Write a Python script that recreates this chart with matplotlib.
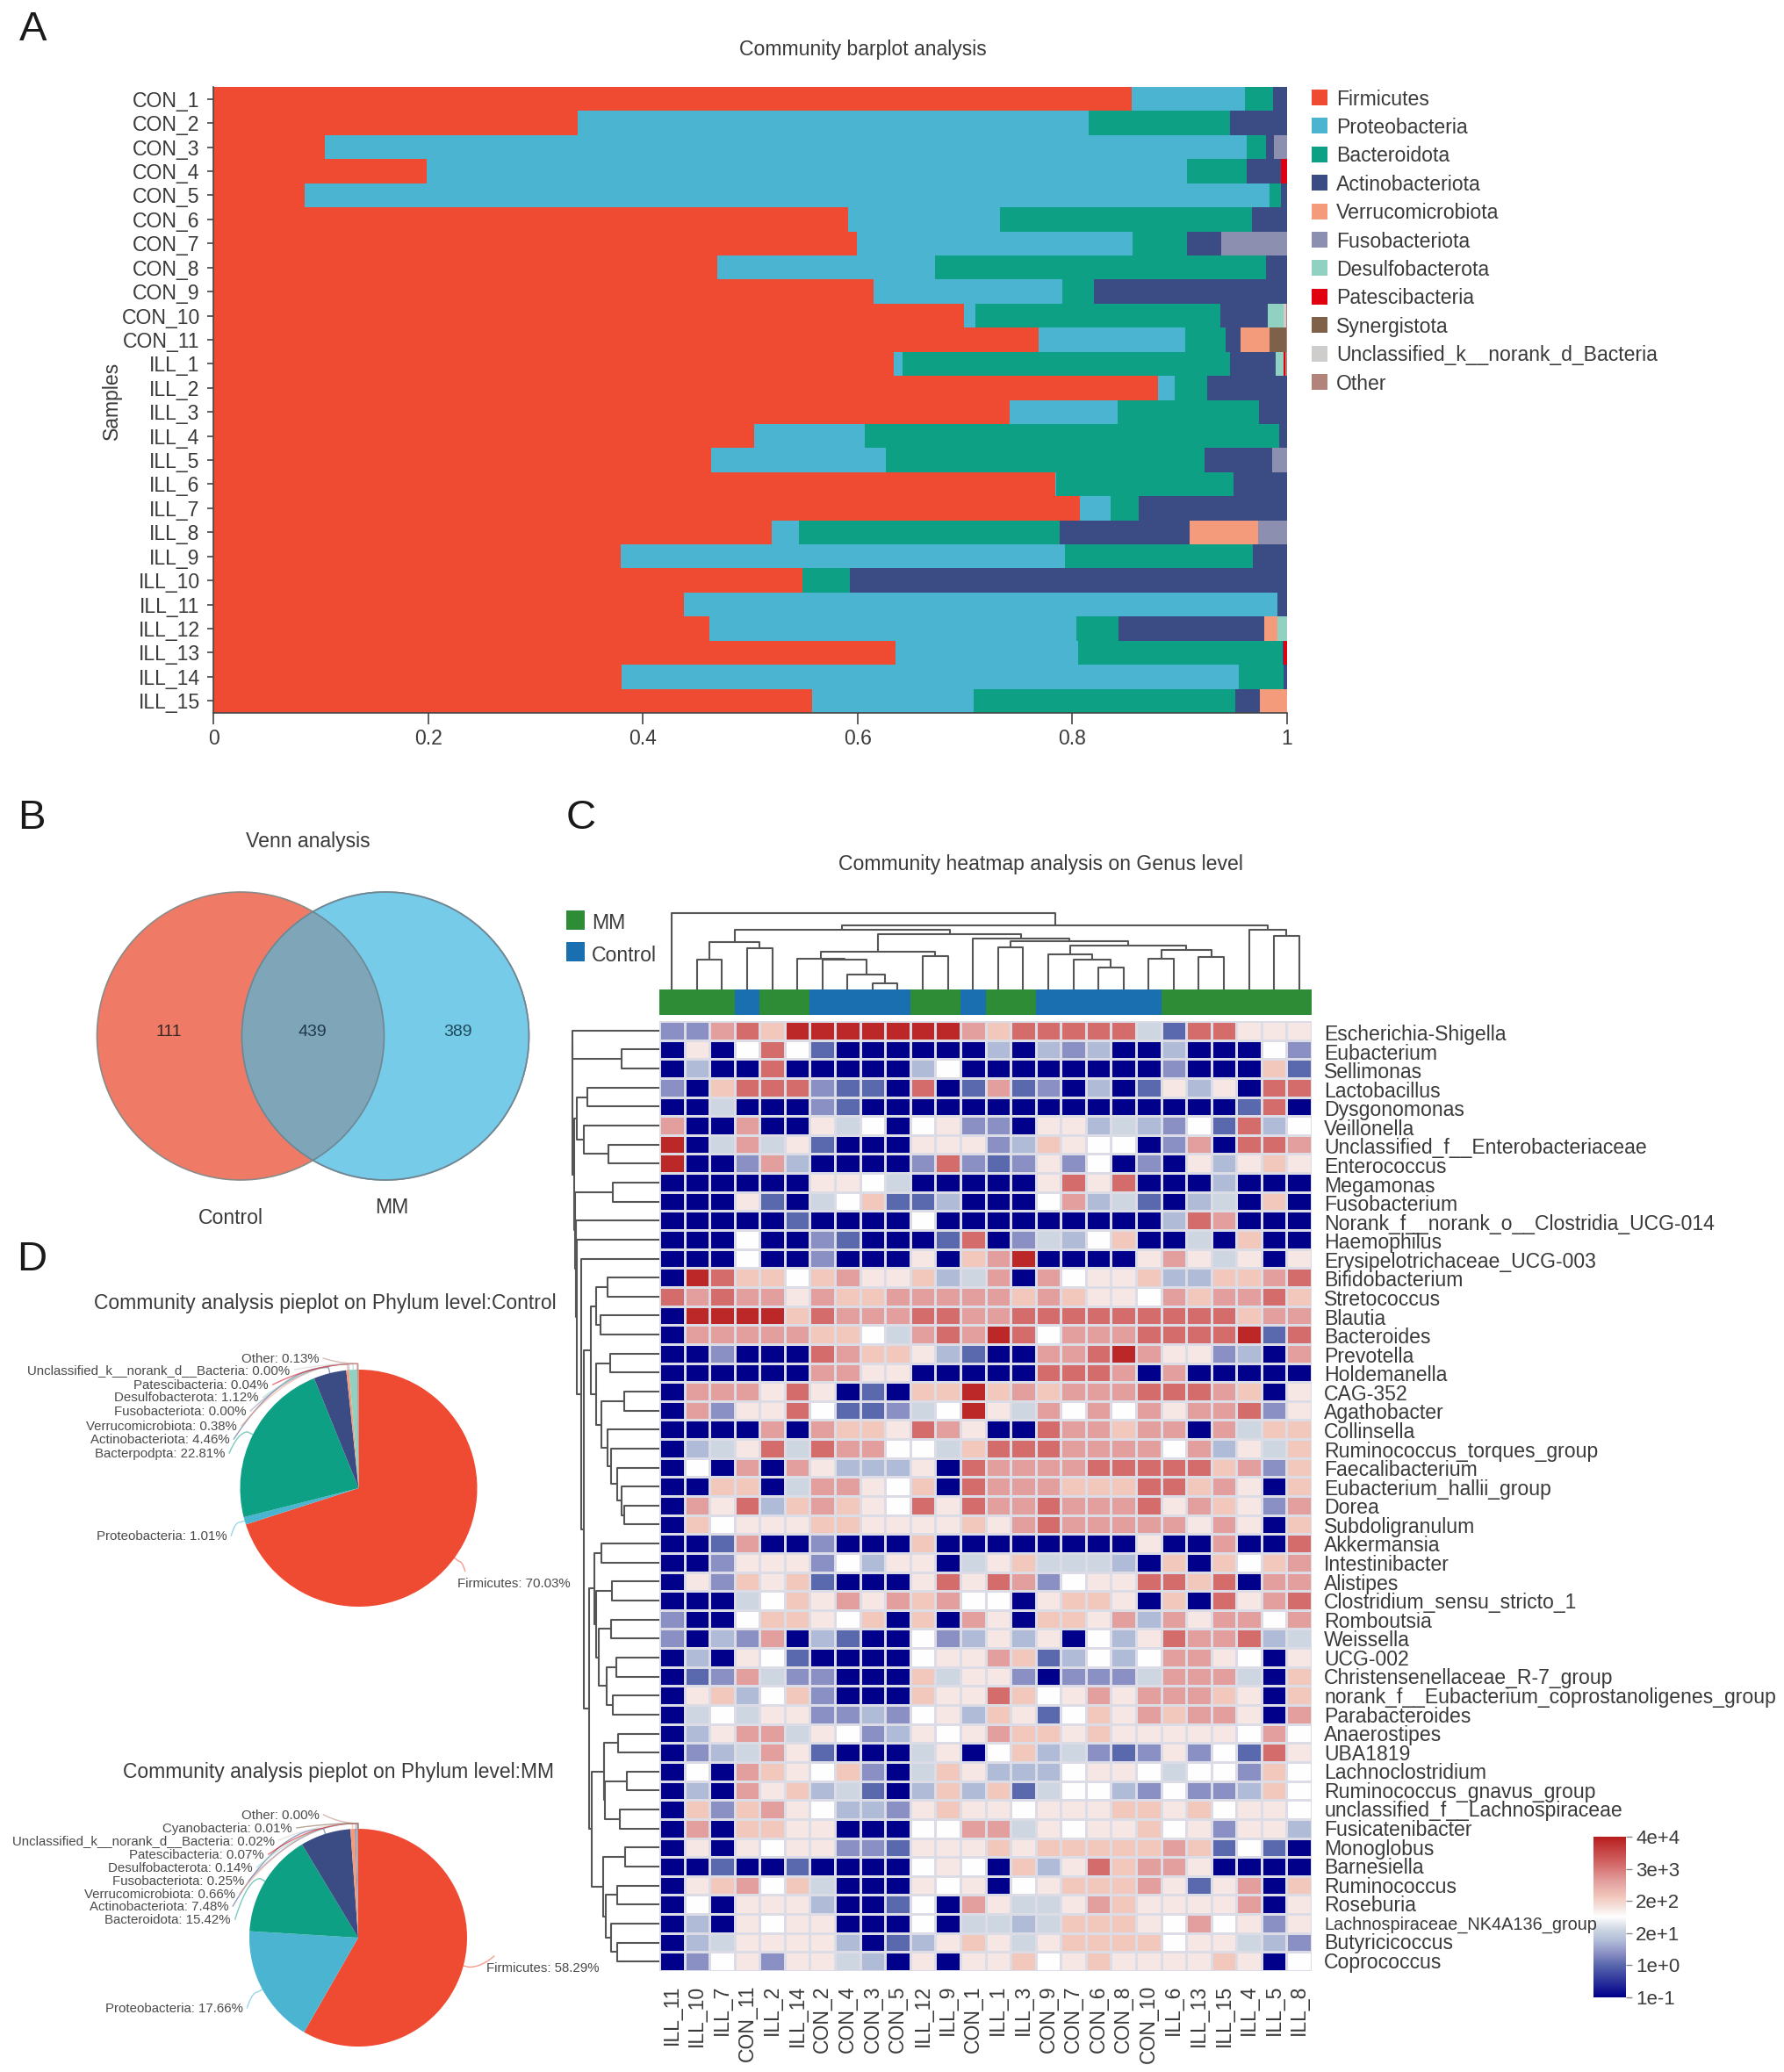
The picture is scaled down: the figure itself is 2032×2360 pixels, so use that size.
import numpy as np
import matplotlib
matplotlib.use("Agg")
import matplotlib.pyplot as plt
from matplotlib.colors import LinearSegmentedColormap, Normalize
from matplotlib.lines import Line2D
from matplotlib.patches import Rectangle, Ellipse

plt.rcParams['font.family'] = ['Liberation Sans', 'DejaVu Sans']
W, H = 2032, 2360
TC = '#3a3a3a'
FS = 16.6

# ---------- Panel A data ----------
samples = ['CON_%d' % i for i in range(1, 12)] + ['ILL_%d' % i for i in range(1, 16)]
phylum_colors = ['#ef4a32', '#4bb4d0', '#0da085', '#3b4c84', '#f39b7a', '#8d8fb0', '#91d1c2',
                 '#e0000f', '#7e6148', '#cfcccc', '#b1837a']
firmicutes = [.855, .339, .104, .199, .085, .591, .599, .469, .615, .699, .769, .634, .880, .742, .504, .464, .784, .807, .520, .379, .549, .438, .462, .635, .380, .558]
proteobacteria = [.106, .476, .858, .708, .899, .142, .257, .203, .176, .011, .136, .008, .015, .100, .103, .162, .001, .029, .025, .414, 0, .553, .342, .170, .575, .150]
bacteroidota = [.026, .132, .018, .055, .010, .234, .051, .308, .029, .228, .038, .305, .031, .132, .386, .297, .165, .026, .243, .175, .044, 0, .039, .191, .042, .244]
actinobacteriota = [.013, .053, .008, .032, .006, .033, .032, .020, .180, .044, .014, .042, .074, .026, .007, .063, .050, .138, .121, .032, .407, .009, .136, .001, .003, .023]
verrucomicrobiota = [0, 0, 0, 0, 0, 0, 0, 0, 0, 0, .027, 0, 0, 0, 0, 0, 0, 0, .064, 0, 0, 0, .012, 0, 0, .025]
fusobacteriota = [0, 0, .012, 0, 0, 0, .061, 0, 0, 0, 0, 0, 0, 0, 0, .014, 0, 0, .027, 0, 0, 0, 0, 0, 0, 0]
desulfobacterota = [0, 0, 0, 0, 0, 0, 0, 0, 0, .015, 0, .008, 0, 0, 0, 0, 0, 0, 0, 0, 0, 0, .009, 0, 0, 0]
patescibacteria = [0, 0, 0, .006, 0, 0, 0, 0, 0, 0, 0, .001, 0, 0, 0, 0, .001, .001, 0, 0, 0, 0, 0, .003, 0, 0]
synergistota = [0, 0, 0, 0, 0, 0, 0, 0, 0, 0, .015, 0, 0, 0, 0, 0, 0, 0, 0, 0, 0, 0, 0, 0, 0, 0]
unclassified_bac = [0, 0, 0, 0, 0, 0, 0, 0, 0, .002, 0, 0, 0, 0, 0, 0, 0, 0, 0, 0, 0, 0, 0, 0, 0, 0]
other_bac = [0, 0, 0, 0, 0, 0, 0, 0, 0, .001, .001, .002, 0, 0, 0, 0, 0, 0, 0, 0, 0, 0, 0, 0, 0, 0]
bar_series = [firmicutes, proteobacteria, bacteroidota, actinobacteriota, verrucomicrobiota,
              fusobacteriota, desulfobacterota, patescibacteria, synergistota, unclassified_bac, other_bac]
legend_names = ['Firmicutes', 'Proteobacteria', 'Bacteroidota', 'Actinobacteriota', 'Verrucomicrobiota',
                'Fusobacteriota', 'Desulfobacterota', 'Patescibacteria', 'Synergistota',
                'Unclassified_k__norank_d_Bacteria', 'Other']

# ---------- Panel B data ----------
venn_counts = [111, 439, 389]

# ---------- Panel C data ----------
heat_cols = ['ILL_11', 'ILL_10', 'ILL_7', 'CON_11', 'ILL_2', 'ILL_14', 'CON_2', 'CON_4', 'CON_3', 'CON_5',
             'ILL_12', 'ILL_9', 'CON_1', 'ILL_1', 'ILL_3', 'CON_9', 'CON_7', 'CON_6', 'CON_8', 'CON_10',
             'ILL_6', 'ILL_13', 'ILL_15', 'ILL_4', 'ILL_5', 'ILL_8']
heat_rows = ['Escherichia-Shigella', 'Eubacterium', 'Sellimonas', 'Lactobacillus', 'Dysgonomonas', 'Veillonella',
             'Unclassified_f__Enterobacteriaceae', 'Enterococcus', 'Megamonas', 'Fusobacterium',
             'Norank_f__norank_o__Clostridia_UCG-014', 'Haemophilus', 'Erysipelotrichaceae_UCG-003', 'Bifidobacterium',
             'Stretococcus', 'Blautia', 'Bacteroides', 'Prevotella', 'Holdemanella', 'CAG-352', 'Agathobacter',
             'Collinsella', 'Ruminococcus_torques_group', 'Faecalibacterium', 'Eubacterium_hallii_group', 'Dorea',
             'Subdoligranulum', 'Akkermansia', 'Intestinibacter', 'Alistipes', 'Clostridium_sensu_stricto_1',
             'Romboutsia', 'Weissella', 'UCG-002', 'Christensenellaceae_R-7_group',
             'norank_f__Eubacterium_coprostanoligenes_group', 'Parabacteroides', 'Anaerostipes', 'UBA1819',
             'Lachnoclostridium', 'Ruminococcus_gnavus_group', 'unclassified_f__Lachnospiraceae', 'Fusicatenibacter',
             'Monoglobus', 'Barnesiella', 'Ruminococcus', 'Roseburia', 'Lachnospiraceae_NK4A136_group',
             'Butyricicoccus', 'Coprococcus']
# abundance class per cell (0 = lowest, A = highest)
heat_classes = [
    '2 2 8 9 7 A A A A A A A 8 7 9 9 9 9 9 4 1 9 9 6 6 6',
    '0 6 0 5 9 5 1 0 0 0 0 0 0 3 0 3 2 3 0 0 3 0 0 0 5 2',
    '0 3 0 0 9 0 0 0 0 0 3 5 0 0 0 0 0 0 0 0 2 0 0 0 7 1',
    '2 0 7 9 9 9 2 1 1 0 9 0 1 8 1 2 0 3 0 1 6 3 6 0 9 9',
    '0 0 4 0 0 0 2 1 0 0 0 0 0 0 0 0 0 0 0 0 0 0 0 1 9 0',
    '8 0 0 8 0 0 6 4 5 0 5 6 2 2 0 6 6 3 4 3 2 5 1 9 3 5',
    'A 0 4 8 4 6 1 0 0 0 6 6 6 2 3 7 6 5 5 0 2 8 0 9 9 8',
    'A 0 0 2 8 3 0 0 0 0 2 9 2 1 2 6 2 5 0 2 0 6 3 6 7 6',
    '0 0 0 0 0 0 6 6 5 4 0 0 0 0 0 6 9 6 9 0 0 0 3 0 0 0',
    '0 0 0 6 1 0 4 5 7 1 1 3 0 0 0 5 8 3 4 1 0 3 4 0 7 0',
    '0 0 0 0 0 1 0 0 0 0 5 0 0 0 0 0 0 0 0 0 3 9 8 0 0 0',
    '0 0 0 5 0 0 2 1 0 0 0 1 9 0 2 4 3 5 7 0 0 4 0 7 0 0',
    '0 0 0 5 0 0 2 0 0 0 6 0 7 8 A 0 0 0 0 6 8 6 4 6 0 6',
    '0 A 9 7 7 5 7 8 6 6 7 3 4 8 0 8 5 6 6 7 3 3 7 7 8 9',
    '9 8 9 8 8 6 8 7 7 8 8 8 8 8 7 8 7 6 6 5 8 7 8 8 9 7',
    '0 A A A A 7 9 8 8 8 9 9 8 8 9 9 9 9 9 9 9 9 9 7 8 8',
    '0 8 8 8 8 8 7 7 5 4 8 9 8 A 9 5 8 8 8 9 9 9 9 A 1 9',
    '0 0 2 0 0 0 9 8 7 7 6 3 1 0 0 8 8 9 A 8 6 6 2 3 0 8',
    '0 0 0 0 0 0 8 8 6 6 0 0 0 0 0 9 9 9 8 0 8 0 0 0 0 0',
    '0 8 8 8 6 9 6 0 1 0 7 7 A 7 8 7 8 8 8 9 9 9 8 7 0 6',
    '0 8 2 6 6 9 5 1 1 2 4 5 A 6 4 8 5 8 5 8 6 8 8 9 2 6',
    '0 0 0 0 8 0 8 7 7 6 9 8 6 0 0 9 8 8 7 8 8 0 8 4 7 7',
    '0 3 4 6 9 4 9 8 8 5 5 4 7 9 9 9 8 8 8 8 5 8 3 6 4 7',
    '0 5 0 8 0 8 6 3 3 3 6 0 9 8 8 8 8 9 9 9 9 9 7 8 2 7',
    '0 0 7 7 0 4 8 8 6 5 7 0 9 8 8 8 7 7 7 9 9 7 8 6 0 7',
    '0 8 6 9 3 7 8 7 6 5 9 6 9 8 8 9 8 8 8 9 6 8 7 6 2 8',
    '0 7 5 6 6 6 7 7 6 6 6 6 7 6 8 9 8 8 8 8 8 6 8 6 0 7',
    '0 0 1 8 0 0 2 0 0 0 7 0 0 0 0 0 0 0 0 6 0 0 8 0 0 9',
    '0 0 2 6 6 6 2 5 3 6 6 0 4 6 7 4 4 4 3 0 7 0 7 5 7 8',
    '0 6 2 7 6 7 1 0 0 0 6 9 6 9 8 2 5 6 6 9 9 7 9 0 8 8',
    '0 0 0 4 5 7 6 8 6 8 7 8 5 5 0 6 7 7 6 0 7 0 9 6 8 9',
    '2 0 0 5 7 7 6 5 7 0 7 0 8 6 0 7 7 6 8 3 8 6 8 8 5 8',
    '2 0 3 2 8 0 3 1 0 0 5 2 3 6 3 6 0 5 3 6 9 8 8 9 3 4',
    '0 3 0 6 5 1 0 0 0 0 5 6 6 8 7 1 3 5 3 5 8 8 6 5 0 6',
    '0 1 2 8 4 2 2 0 0 0 7 4 6 6 2 0 2 2 2 4 8 8 8 4 0 7',
    '0 6 7 3 5 7 2 0 0 0 7 6 6 9 7 5 6 8 6 8 8 8 7 6 0 7',
    '0 4 5 4 6 6 2 2 3 2 5 6 3 7 6 1 5 7 6 8 7 8 8 6 0 8',
    '0 3 6 8 8 4 6 5 2 3 6 5 6 8 7 7 6 7 6 6 6 6 6 5 8 5',
    '0 2 3 4 8 6 1 0 0 0 4 6 0 5 7 3 4 2 1 2 6 2 5 1 9 6',
    '0 5 0 8 7 6 5 7 2 0 4 7 6 3 3 3 5 6 6 5 4 5 5 2 7 5',
    '0 3 0 8 6 7 3 4 1 0 3 7 3 7 1 4 5 5 3 2 5 2 2 3 7 5',
    '0 7 2 7 8 6 5 3 3 2 6 7 6 6 5 6 6 6 7 7 6 7 5 6 6 5',
    '0 8 0 7 7 6 6 0 0 0 5 5 8 8 4 6 5 6 6 7 5 6 2 6 6 3',
    '0 6 0 6 5 6 6 2 2 1 6 6 6 7 6 7 7 7 7 7 8 7 1 5 1 0',
    '0 0 1 0 0 1 0 0 0 0 5 6 5 0 7 3 6 9 7 8 8 6 0 0 0 0',
    '0 6 7 8 5 7 4 0 0 0 6 5 6 0 5 6 7 7 7 8 6 1 6 8 0 7',
    '0 5 0 6 6 6 3 0 0 1 5 0 8 6 4 4 6 8 7 6 6 6 6 8 0 6',
    '0 3 0 6 5 6 6 0 0 0 5 0 4 4 3 4 7 7 7 6 5 8 5 6 2 6',
    '0 3 4 6 6 6 6 3 0 1 3 6 7 6 4 6 7 7 7 7 5 6 6 4 3 2',
    '0 2 5 6 2 6 6 4 3 0 6 0 6 6 7 5 6 7 6 6 6 6 7 6 0 5',
]
class_levels = {'0': 0.0, '1': 1.0, '2': 1.35, '3': 1.75, '4': 2.1, '5': 2.5, '6': 2.75, '7': 3.1, '8': 3.6, '9': 4.1, 'A': 4.85}
cbar_labels = ['1e-1', '1e+0', '2e+1', '2e+2', '3e+3', '4e+4']

# dendrogram merges: (name, left, right, height); ints are leaves
col_merges = [
    ('a', 1, 2, 34), ('b', 3, 4, 47), ('c', 'a', 'b', 54), ('d', 8, 9, 7), ('e', 7, 'd', 17), ('f', 6, 'e', 34),
    ('g', 5, 'f', 35), ('h', 10, 11, 38), ('i', 'g', 'h', 43), ('j', 13, 14, 48), ('k', 17, 18, 25),
    ('l', 16, 'k', 34), ('m', 15, 'l', 40), ('n', 19, 20, 35), ('o', 21, 22, 37), ('p', 'n', 'o', 45),
    ('q', 'm', 'p', 50), ('r', 'j', 'q', 55), ('s', 12, 'r', 58), ('t', 'i', 's', 63), ('u', 'c', 't', 68),
    ('v', 24, 25, 61), ('w', 23, 'v', 68), ('x', 'u', 'w', 73), ('y', 0, 'x', 87),
]
row_merges = [
    ('n1', 1, 2, 43), ('n2', 0, 'n1', 99), ('n3', 3, 4, 82), ('n4', 6, 7, 58), ('n5', 5, 'n4', 86),
    ('n6', 'n3', 'n5', 94), ('n8', 8, 9, 53),
    ('a1', 13, 14, 59), ('a2', 15, 16, 67), ('a3', 'a1', 'a2', 72), ('b1', 17, 18, 56), ('b2', 19, 20, 40),
    ('c1', 25, 26, 40), ('c2', 24, 'c1', 43), ('c3', 23, 'c2', 48), ('c4', 22, 'c3', 55), ('c5', 21, 'c4', 59),
    ('c6', 'b2', 'c5', 66), ('c7', 'b1', 'c6', 72), ('c8', 'a3', 'c7', 78),
    ('d1', 27, 28, 66), ('d2', 29, 30, 54), ('d3', 31, 32, 55), ('d4', 33, 34, 49), ('d5', 35, 36, 53),
    ('d6', 'd4', 'd5', 60), ('d7', 'd3', 'd6', 69), ('d8', 'd2', 'd7', 72), ('d9', 'd1', 'd8', 74),
    ('e1', 37, 38, 47), ('e2', 39, 40, 37), ('e3', 41, 42, 45), ('e4', 'e2', 'e3', 62), ('e5', 'e1', 'e4', 63),
    ('f1', 43, 44, 39), ('f2', 45, 46, 48), ('g1', 48, 49, 48), ('g2', 47, 'g1', 55), ('g3', 'f2', 'g2', 61),
    ('g4', 'f1', 'g3', 64), ('h1', 'e5', 'g4', 77), ('h2', 'd9', 'h1', 80), ('i1', 'c8', 'h2', 86),
    ('j1', 12, 'i1', 89), ('k4', 11, 'j1', 94), ('k3', 10, 'k4', 95), ('k2', 'n8', 'k3', 96), ('k1', 'n6', 'k2', 97),
    ('root', 'n2', 'k1', 99.5),
]

# ---------- Panel D data ----------
pie_ctrl_labels = ['Firmicutes', 'Proteobacteria', 'Bacterpodpta', 'Actinobacteriota', 'Verrucomicrobiota',
                   'Fusobacteriota', 'Desulfobacterota', 'Patescibacteria', 'Unclassified_k__norank_d__Bacteria', 'Other']
pie_ctrl_values = [70.03, 1.01, 22.81, 4.46, 0.38, 0.00, 1.12, 0.04, 0.00, 0.13]
pie_ctrl_colors = ['#ef4a32', '#4bb4d0', '#0da085', '#3b4c84', '#f39b7a', '#8d8fb0', '#91d1c2', '#e0000f', '#cfcccc', '#b1837a']
pie_mm_labels = ['Firmicutes', 'Proteobacteria', 'Bacteroidota', 'Actinobacteriota', 'Verrucomicrobiota',
                 'Fusobacteriota', 'Desulfobacterota', 'Patescibacteria', 'Unclassified_k__norank_d__Bacteria',
                 'Cyanobacteria', 'Other']
pie_mm_values = [58.29, 17.66, 15.42, 7.48, 0.66, 0.25, 0.14, 0.07, 0.02, 0.01, 0.00]
pie_mm_colors = ['#ef4a32', '#4bb4d0', '#0da085', '#3b4c84', '#f39b7a', '#8d8fb0', '#91d1c2', '#e0000f', '#cfcccc', '#7e6148', '#b1837a']

# ---------- helpers ----------
fig = plt.figure(figsize=(W / 100, H / 100), dpi=100, facecolor='white')


def axpx(x0, y0, x1, y1):
    return fig.add_axes([x0 / W, 1 - y1 / H, (x1 - x0) / W, (y1 - y0) / H])


def T(x, y, s, fs=FS, ha='center', va='center', color=TC, **kw):
    return fig.text(x / W, 1 - y / H, s, fontsize=fs, ha=ha, va=va, color=color, **kw)


def draw_dendro(ax, merges, horizontal):
    pos = {}
    ht = {}
    for name, l, r, h in merges:
        pl = l + .5 if isinstance(l, int) else pos[l]
        pr = r + .5 if isinstance(r, int) else pos[r]
        hl = 0 if isinstance(l, int) else ht[l]
        hr = 0 if isinstance(r, int) else ht[r]
        xs, ys = [pl, pl, pr, pr], [hl, h, h, hr]
        if horizontal:
            xs, ys = ys, xs
        ax.plot(xs, ys, color='#555555', lw=1.5, solid_capstyle='butt')
        pos[name] = (pl + pr) / 2
        ht[name] = h


for (x, y, s) in [(38, 34, 'A'), (36, 932, 'B'), (662, 932, 'C'), (36, 1435, 'D')]:
    T(x, y, s, fs=34, color='#1a1a1a')

# ---------- Panel A ----------
T(983, 56, 'Community barplot analysis')
ax = axpx(243, 99, 1466, 812)
left = np.zeros(len(samples))
for vals, col in zip(bar_series, phylum_colors):
    vals = np.array(vals, float)
    ax.barh(np.arange(len(samples)) + .5, vals, left=left, height=1.0, color=col, linewidth=0)
    left += vals
ax.set_xlim(0, 1)
ax.set_ylim(len(samples), 0)
ax.set_yticks(np.arange(len(samples)) + .5)
ax.set_yticklabels(samples, fontsize=FS, color=TC)
ax.set_xticks([0, .2, .4, .6, .8, 1])
ax.set_xticklabels(['0', '0.2', '0.4', '0.6', '0.8', '1'], fontsize=FS, color=TC)
ax.tick_params(axis='y', length=5, width=1.2, pad=6, color='#444')
ax.tick_params(axis='x', length=9, width=1.2, pad=4, color='#444')
for s in ('top', 'right'):
    ax.spines[s].set_visible(False)
for s in ('left', 'bottom'):
    ax.spines[s].set_color('#444')
    ax.spines[s].set_linewidth(1.2)
T(127, 456, 'Samples', rotation=90)
for i, (nm, col) in enumerate(zip(legend_names, phylum_colors)):
    yy = 112 + i * 32.4
    fig.add_artist(Rectangle((1494 / W, 1 - (yy + 8) / H), 18 / W, 18 / H, transform=fig.transFigure, color=col, lw=0))
    T(1522, yy + 1, nm, ha='left')

# ---------- Panel B ----------
T(351, 958, 'Venn analysis')
ax = axpx(100, 1005, 615, 1355)
ax.set_xlim(100, 615)
ax.set_ylim(1355, 1005)
ax.axis('off')
e1 = Ellipse((274, 1180), 327, 328, fc='#ef7a66', ec='#8a8a88', lw=1.2)
e2 = Ellipse((439, 1180), 327, 328, fc='#75cbe8', ec='#80959f', lw=1.2)
ax.add_patch(e1)
ax.add_patch(e2)
e3 = Ellipse((274, 1180), 327, 328, fc='#7fa5b8', ec='#6f8794', lw=1.2)
ax.add_patch(e3)
e3.set_clip_path(e2)
e4 = Ellipse((439, 1180), 327, 328, fc='none', ec='#6f8794', lw=1.2)
ax.add_patch(e4)
for xx, v, c in zip([192, 356, 521], venn_counts, ['#3a2a25', '#1f3a4a', '#1f4a5a']):
    ax.text(xx, 1175, str(v), fontsize=14, ha='center', va='center', color=c)
T(263, 1387, 'Control')
T(446, 1375, 'MM')

# ---------- Panel C ----------
T(1185, 984, 'Community heatmap analysis on Genus level')
cmap = LinearSegmentedColormap.from_list('heat', [
    (0, '#00008b'), (.2, '#5a68ad'), (.27, '#8a8fc4'), (.35, '#b0bcd8'), (.42, '#ced6e2'), (.5, '#ffffff'),
    (.55, '#f6e7e4'), (.62, '#f2c8bd'), (.72, '#e3a09e'), (.82, '#d56c6c'), (1, '#b81c1c')])
norm = Normalize(0, 5)
Z = np.array([[class_levels[c] for c in row.split()] for row in heat_classes])
ax = axpx(751, 1163, 1494, 2245)
ax.pcolormesh(np.arange(27), np.arange(51), Z, cmap=cmap, norm=norm, edgecolors='#dcdce6', linewidth=1.0)
ax.set_xlim(0, 26)
ax.set_ylim(50, 0)
ax.set_xticks([])
ax.set_yticks([])
for s in ax.spines.values():
    s.set_visible(False)
for i, nm in enumerate(heat_rows):
    fs = 14.3 if nm.startswith('Lachnospiraceae_NK') else FS
    T(1508, 1178.5 + i * (2235.5 - 1178.5) / 49, nm, fs=fs, ha='left')
step_x = (1494 - 751) / 26
for i, nm in enumerate(heat_cols):
    T(751 + (i + .5) * step_x, 2261, nm, rotation=90, va='top')

ax = axpx(751, 1127, 1494, 1156)
ax.set_xlim(0, 26)
ax.set_ylim(0, 1)
ax.axis('off')
for i, nm in enumerate(heat_cols):
    ax.bar(i + .5, 1, width=1, bottom=0, color='#1a6fb0' if nm.startswith('CON') else '#2e8b36', lw=0)

ax = axpx(751, 1000, 1494, 1127)
ax.set_xlim(0, 26)
ax.set_ylim(0, 127)
ax.axis('off')
draw_dendro(ax, col_merges, False)

ax = axpx(640, 1163, 751, 2245)
ax.set_xlim(111, 0)
ax.set_ylim(50, 0)
ax.axis('off')
draw_dendro(ax, row_merges, True)

for yy, col, nm in [(1037, '#2e8b36', 'MM'), (1073, '#1a6fb0', 'Control')]:
    fig.add_artist(Rectangle((645 / W, 1 - (yy + 22) / H), 21 / W, 22 / H, transform=fig.transFigure, color=col, lw=0))
    T(674, yy + 15, nm, ha='left')

cax = axpx(1815, 2092, 1852, 2275)
cax.imshow(np.linspace(5, 0, 256)[:, None], aspect='auto', cmap=cmap, norm=norm, extent=[0, 1, 0, 5])
cax.set_xticks([])
cax.yaxis.tick_right()
cax.set_yticks(range(6))
cax.set_yticklabels(cbar_labels, fontsize=16, color=TC)
cax.tick_params(axis='y', length=5, width=1, pad=3, color='#888')
for s in cax.spines.values():
    s.set_visible(False)


# ---------- Panel D ----------
def draw_pie(cx, cy, r, labels, values, colors, spots):
    ax = axpx(cx - r, cy - r, cx + r, cy + r)
    ax.pie(values, colors=colors, startangle=90, counterclock=False, radius=1,
           wedgeprops=dict(linewidth=0))
    ax.set_xlim(-1, 1)
    ax.set_ylim(-1, 1)
    edges = np.concatenate([[0], np.cumsum(values)]) / np.sum(values) * 2 * np.pi
    mids = (edges[:-1] + edges[1:]) / 2
    rend = fig.canvas.get_renderer()
    for nm, v, col, m, sp in zip(labels, values, colors, mids, spots):
        t = T(sp[0], sp[1] + 1, '%s: %.2f%%' % (nm, v), fs=10.8, color='#4a4a4a')
        bb = t.get_window_extent(rend)
        rx, ry = cx + r * np.sin(m), cy - r * np.cos(m)
        ox, oy = cx + r * 1.05 * np.sin(m), cy - r * 1.05 * np.cos(m)
        if sp[0] > cx:
            px, py = bb.x0 + 9, sp[1] - 13
        else:
            px, py = bb.x1 + 5, sp[1]
        # curved leader from the slice rim to the label
        tt = np.linspace(0, 1, 20)[:, None]
        p0, p1, p2 = np.array([px, py]), np.array([(px + ox) / 2, oy]), np.array([ox, oy])
        curve = (1 - tt) ** 2 * p0 + 2 * tt * (1 - tt) * p1 + tt ** 2 * p2
        curve = np.vstack([curve, [rx, ry]])
        fig.add_artist(Line2D(curve[:, 0] / W, 1 - curve[:, 1] / H, transform=fig.transFigure,
                              color=col, lw=1.0, alpha=.55))


T(370, 1484, 'Community analysis pieplot on Phylum level:Control', fs=16.45)
ctrl_spots = [(585, 1802.5), (184, 1749), (182, 1655), (182, 1639), (184, 1624), (205, 1607),
              (212.5, 1591.5), (229, 1577), (181, 1560), (319, 1547)]
draw_pie(408.5, 1695, 135, pie_ctrl_labels, pie_ctrl_values, pie_ctrl_colors, ctrl_spots)

T(385, 2019, 'Community analysis pieplot on Phylum level:MM', fs=16.45)
mm_spots = [(618, 2241), (198, 2287), (191, 2186), (181, 2171), (182, 2156.5), (203, 2142), (205, 2127),
            (224, 2112), (163, 2096), (259, 2082), (319, 2067)]
draw_pie(408, 2207, 124, pie_mm_labels, pie_mm_values, pie_mm_colors, mm_spots)

fig.savefig('out.png', dpi=100, facecolor='white')
